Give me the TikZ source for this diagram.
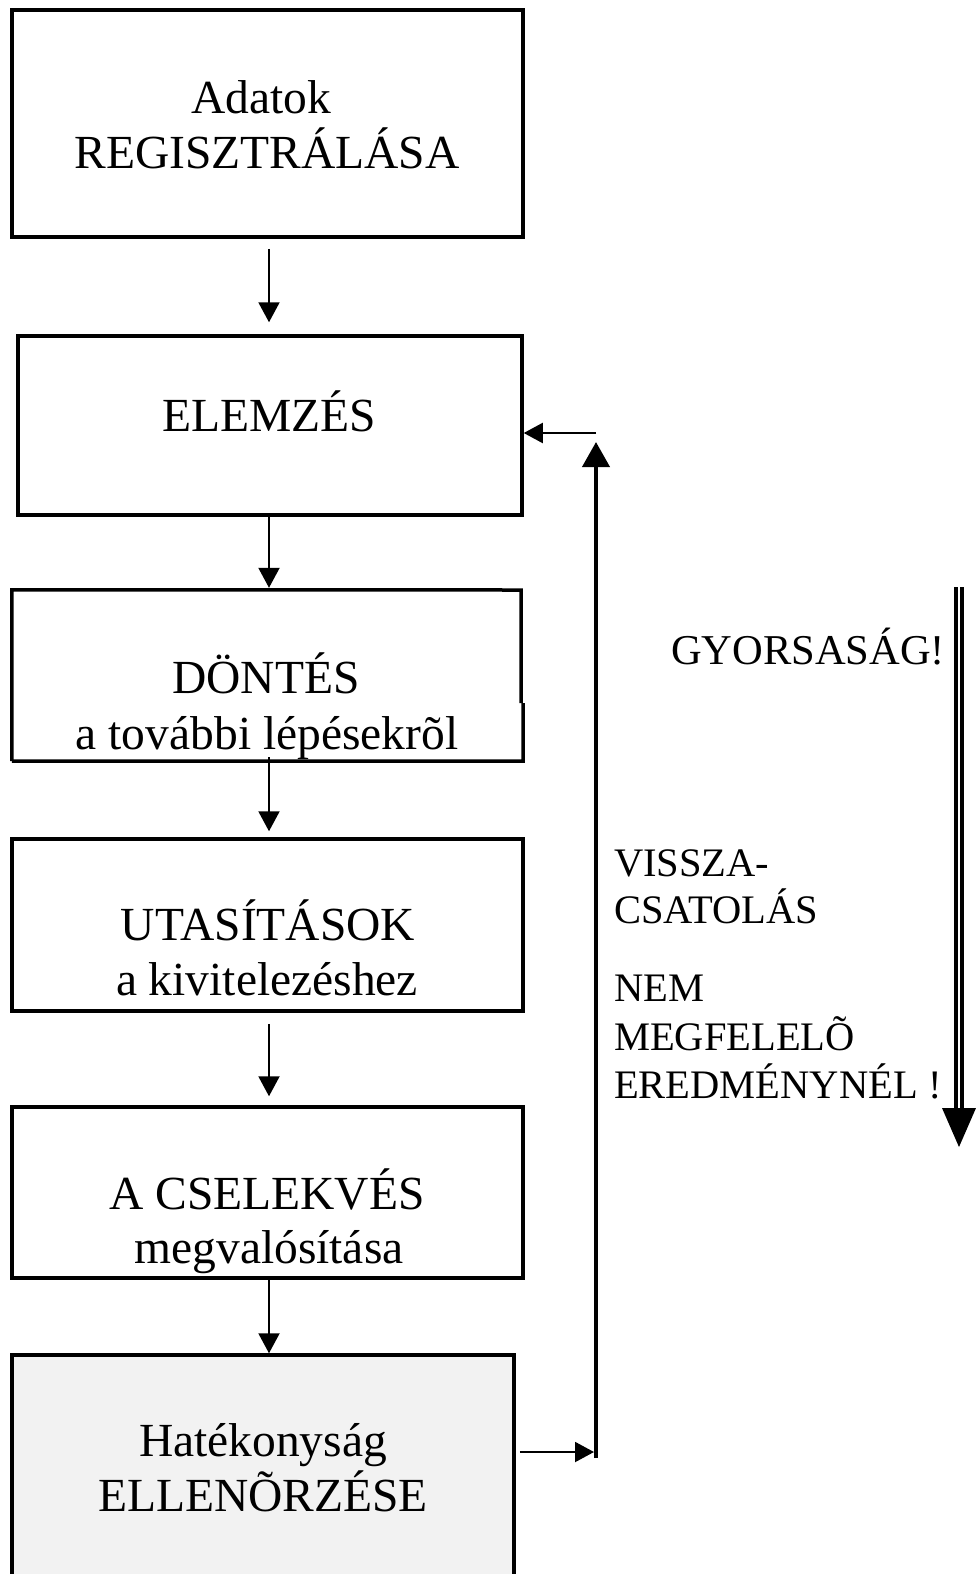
\documentclass[tikz,border=0pt]{standalone}
\usepackage{fontspec}
\setmainfont{Liberation Serif}
\usetikzlibrary{arrows.meta,calc}
\definecolor{checkfill}{HTML}{F2F2F2}
\begin{document}
\begin{tikzpicture}[x=1pt,y=-1pt,
  boxline/.style={line width=3.5pt},
  box/.style={boxline, draw, rectangle, inner sep=0pt},
  boxtext/.style={anchor=base, inner sep=0pt, font=\fontsize{47.5}{55}\selectfont},
  sidetext/.style={anchor=base west, inner sep=0pt, font=\fontsize{40.5}{46}\selectfont},
  flow/.style={line width=2pt, -{Triangle[length=20pt,width=21pt]}},
  back/.style={line width=2pt, -{Triangle[length=19pt,width=20pt]}},
  rise/.style={line width=4pt, -{Triangle[length=25pt,width=27pt]}}]
\useasboundingbox (0,0) rectangle (975,1574);

% process boxes
\node[box, minimum width=511pt, minimum height=227pt] (b1) at (267.5,123.5) {};
\node[box, minimum width=504pt, minimum height=179pt] (b2) at (270,425.5) {};
\node[minimum width=511pt, minimum height=171pt, inner sep=0pt] (b3) at (267.5,675.5) {};
\draw[boxline] (b3.south west) -- (b3.north west) -- (521,590) -- (521,703);
\draw[boxline] (523,703) -- (523,761) -- (b3.south west);
\node[box, minimum width=511pt, minimum height=172pt] (b4) at (267.5,925) {};
\node[box, minimum width=511pt, minimum height=171pt] (b5) at (267.5,1192.5) {};
\node[box, fill=checkfill, minimum width=502pt, minimum height=250pt] (b6) at (263,1480) {};

% box labels
\node[boxtext] (t1a) at (261,113.5) {Adatok};
\node[boxtext] (t1b) at (267,168.7) {REGISZTRÁLÁSA};
\node[boxtext] (t2) at (269,431.7) {ELEMZÉS};
\node[boxtext] (t3a) at (266,693.8) {DÖNTÉS};
\node[boxtext] (t3b) at (267,749) {a további lépésekrõl};
\node[boxtext] (t4a) at (268,940.7) {UTASÍTÁSOK};
\node[boxtext] (t4b) at (267,995) {a kivitelezéshez};
\node[boxtext] (t5a) at (267,1209.8) {A CSELEKVÉS};
\node[boxtext] (t5b) at (269,1263) {megvalósítása};
\node[boxtext] (t6a) at (263,1456.8) {Hatékonyság};
\node[boxtext] (t6b) at (263,1511) {ELLENÕRZÉSE};

% downward flow
\coordinate (ax) at (269,0);
\draw[flow, shorten <=10pt, shorten >=12pt] (b1.south -| ax) -- (b2.north -| ax);
\draw[flow, shorten >=2pt] (b2.south -| ax) -- (b3.north -| ax);
\draw[flow, shorten <=-4pt, shorten >=6pt] (b3.south -| ax) -- (b4.north -| ax);
\draw[flow, shorten <=11pt, shorten >=9pt] (b4.south -| ax) -- (b5.north -| ax);
\draw[flow] (b5.south -| ax) -- (b6.north -| ax);

% feedback loop
\coordinate (fbx) at (596,0);
\coordinate (fblow) at (0,1452);
\coordinate (fbhigh) at (0,433);
\coordinate (fbbot) at (596,1458);
\coordinate (fbtop) at (596,442);
\draw[back, shorten <=4pt, shorten >=2pt] (b6.east |- fblow) -- (fbx |- fblow);
\draw[rise] (fbbot) -- (fbtop);
\draw[back] (fbx |- fbhigh) -- (b2.east |- fbhigh);

% speed arrow
\coordinate (gtop) at (959,587);
\coordinate (gbot) at (959,1147);
\draw[line width=3.5pt, double distance=2.5pt] (gtop) -- ($(gbot)+(0,-37)$);
\fill ($(gbot)+(-17,-39)$) -- ($(gbot)+(17,-39)$) -- (gbot) -- cycle;

% side labels
\node[sidetext, font=\fontsize{42.5}{48}\selectfont] (s0) at (671,664.6) {GYORSASÁG!};
\node[sidetext] (s1) at (614,876.5) {VISSZA-};
\node[sidetext] (s2) at (614,923.7) {CSATOLÁS};
\node[sidetext] (s3) at (614,1001) {NEM};
\node[sidetext] (s4) at (614,1050) {MEGFELELÕ};
\node[sidetext] (s5) at (614,1098) {EREDMÉNYNÉL !};
\end{tikzpicture}
\end{document}
